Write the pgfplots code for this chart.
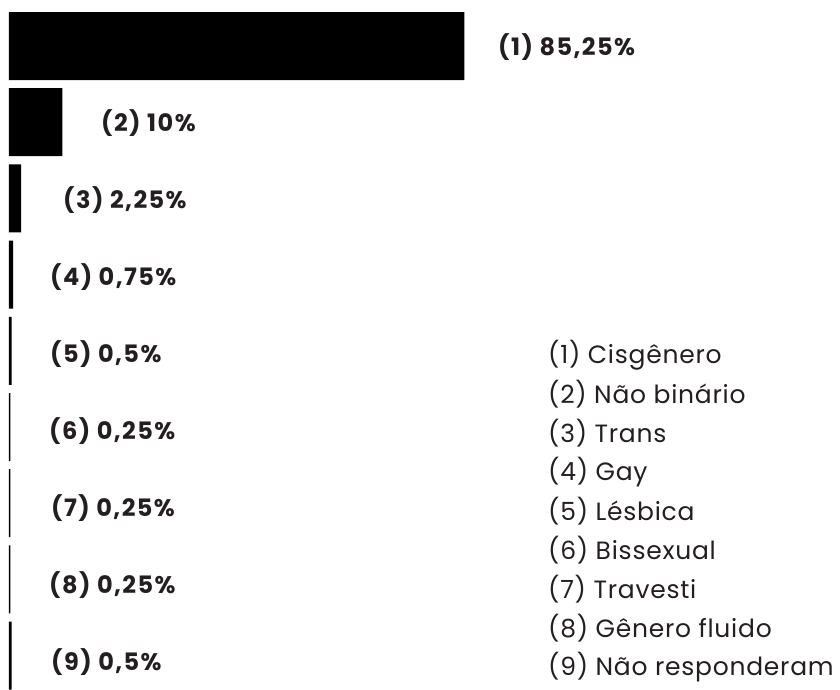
\documentclass[border=0pt]{standalone}
\usepackage{pgfplots}
\pgfplotsset{compat=1.18}
\usepackage{fontspec}
\setmainfont{Poppins}
\newfontfamily\labfont[LetterSpace=6]{Poppins}
\newfontfamily\legfont[LetterSpace=3]{Poppins}
\definecolor{txt}{RGB}{35,31,32}
\begin{document}
\begin{tikzpicture}
\begin{axis}[
  scale only axis, width=840bp, height=689bp,
  xmin=-1.684, xmax=155.53,
  ymin=0.396, ymax=9.438, y dir=reverse,
  hide axis, clip=false,
  xbar, bar width=0.892,
]
\addplot[fill=black, draw=none] coordinates {
(85.25,1) (10,2) (2.25,3) (0.75,4) (0.5,5) (0.25,6) (0.25,7) (0.25,8) (0.5,9)
};
\begin{scope}[every node/.style={anchor=west, text=txt, font=\labfont\fontsize{24bp}{28bp}\selectfont\bfseries, inner sep=0pt}]
\node at (axis cs:91.52,1.013) {(1) 85,25\%};
\node at (axis cs:17.22,2.01) {(2) 10\%};
\node at (axis cs:10.11,3.02) {(3) 2,25\%};
\node at (axis cs:7.67,4.03) {(4) 0,75\%};
\node at (axis cs:7.67,5.04) {(5) 0,5\%};
\node at (axis cs:7.49,6.05) {(6) 0,25\%};
\node at (axis cs:7.86,7.06) {(7) 0,25\%};
\node at (axis cs:7.49,8.07) {(8) 0,25\%};
\node at (axis cs:7.86,9.08) {(9) 0,5\%};
\end{scope}
\begin{scope}[every node/.style={anchor=west, text=txt, font=\legfont\fontsize{25bp}{29bp}\selectfont, inner sep=0pt}]
\node at (axis description cs:0.6524,0.4848) {(1) Cisgênero};
\node at (axis description cs:0.6524,0.4282) {(2) Não binário};
\node at (axis description cs:0.6524,0.3716) {(3) Trans};
\node at (axis description cs:0.6524,0.3150) {(4) Gay};
\node at (axis description cs:0.6524,0.2584) {(5) Lésbica};
\node at (axis description cs:0.6524,0.2018) {(6) Bissexual};
\node at (axis description cs:0.6524,0.1451) {(7) Travesti};
\node at (axis description cs:0.6524,0.0885) {(8) Gênero fluido};
\node at (axis description cs:0.6524,0.0319) {(9) Não responderam};
\end{scope}
\end{axis}
\path (current axis.south west) rectangle (current axis.north east);
\end{tikzpicture}
\end{document}
